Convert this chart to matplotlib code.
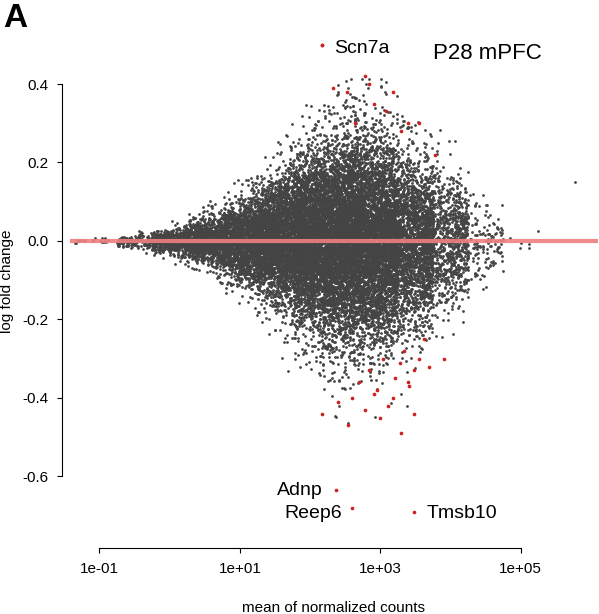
import numpy as np
import matplotlib.pyplot as plt

plt.rcParams['font.family'] = ['Liberation Sans', 'DejaVu Sans']

# envelope of the grey gene cloud (log10 mean, half-width of log fold change, gene count per bin)
env_logmean = [-1.1, -0.5, 0.0, 0.5, 1.0, 1.5, 2.0, 2.5, 3.0, 3.5, 4.0, 4.5, 5.0]
env_spread = [0.01, 0.02, 0.04, 0.07, 0.12, 0.19, 0.27, 0.31, 0.31, 0.27, 0.20, 0.12, 0.06]
env_count = [20, 150, 500, 1000, 1700, 2600, 3600, 4000, 3400, 2000, 800, 140, 10]

# significant genes (red)
sig_mean = [150, 210, 330, 440, 600, 700, 800, 1200, 1500, 2000, 2500, 3500, 6000,
            400, 500, 700, 900, 1100, 1300, 1600, 1900, 2200, 2600, 3000, 3500, 4200, 5000, 8000,
            150, 250, 350, 600, 800, 1000, 1500, 2000, 2500, 3000]
sig_lfc = [0.50, 0.39, 0.38, 0.30, 0.42, 0.40, 0.35, 0.33, 0.38, 0.28, 0.30, 0.30, 0.22,
           -0.40, -0.36, -0.33, -0.38, -0.30, -0.42, -0.35, -0.31, -0.28, -0.37, -0.33, -0.30, -0.25, -0.32, -0.30,
           -0.44, -0.41, -0.47, -0.43, -0.39, -0.45, -0.40, -0.49, -0.36, -0.44]
lab_mean = [150, 230, 400, 3000]
lab_lfc = [0.50, -0.635, -0.68, -0.69]
extra_mean = [6e5]
extra_lfc = [0.15]

rng = np.random.default_rng(3)
n_tot = sum(env_count)
w = np.array(env_count, float) / n_tot
bins = rng.choice(len(env_logmean), n_tot, p=w)
lx = np.array(env_logmean)[bins] + rng.uniform(-0.25, 0.25, n_tot)
sp = np.interp(lx, env_logmean, env_spread)
z = np.clip(rng.normal(0, 1, n_tot), -3.6, 3.2)
gy = z * sp / 2.4
gx = np.concatenate([10 ** lx, extra_mean])
gy = np.concatenate([gy, extra_lfc])

fig = plt.figure(figsize=(5.99, 6.14), dpi=100)
ax = fig.add_axes([70 / 599, 74 / 614, 528 / 599, 518 / 614])
ax.scatter(gx, gy, s=4, c='#444444', linewidths=0)
ax.scatter(sig_mean, sig_lfc, s=7, c='#cc2222', linewidths=0)
ax.scatter(lab_mean, lab_lfc, s=7, c='#cc2222', linewidths=0)
ax.axhline(0, color='#f08080', lw=3, alpha=0.9)

ax.text(220, 0.49, 'Scn7a', fontsize=14, va='center')
ax.text(150, -0.635, 'Adnp', fontsize=14, va='center', ha='right')
ax.text(280, -0.695, 'Reep6', fontsize=14, va='center', ha='right')
ax.text(4500, -0.695, 'Tmsb10', fontsize=14, va='center')
ax.text(0.79, 0.96, 'P28 mPFC', transform=ax.transAxes, fontsize=16, ha='center', va='top')

ax.set_xscale('log')
ax.set_xlim(10 ** -1.42, 10 ** 6.1)
ax.set_ylim(-0.762, 0.558)
ax.set_xticks([1e-1, 1e1, 1e3, 1e5])
ax.set_xticklabels(['1e-01', '1e+01', '1e+03', '1e+05'])
ax.minorticks_off()
ax.set_yticks([-0.6, -0.4, -0.2, 0.0, 0.2, 0.4])
ax.set_yticklabels(['-0.6', '-0.4', '-0.2', '0.0', '0.2', '0.4'], rotation=90, va='center')
ax.spines['top'].set_visible(False)
ax.spines['right'].set_visible(False)
ax.spines['left'].set_bounds(-0.6, 0.4)
ax.spines['bottom'].set_bounds(1e-1, 1e5)
ax.spines['left'].set_position(('outward', 6))
ax.spines['bottom'].set_position(('outward', 6))
ax.tick_params(labelsize=11, pad=6)
ax.set_xlabel('mean of normalized counts', fontsize=11, labelpad=18)
ax.set_ylabel('log fold change', fontsize=11, labelpad=6)
fig.text(0.005, 0.995, 'A', fontsize=24, fontweight='bold', va='top')

fig.savefig('out.png', dpi=100)
